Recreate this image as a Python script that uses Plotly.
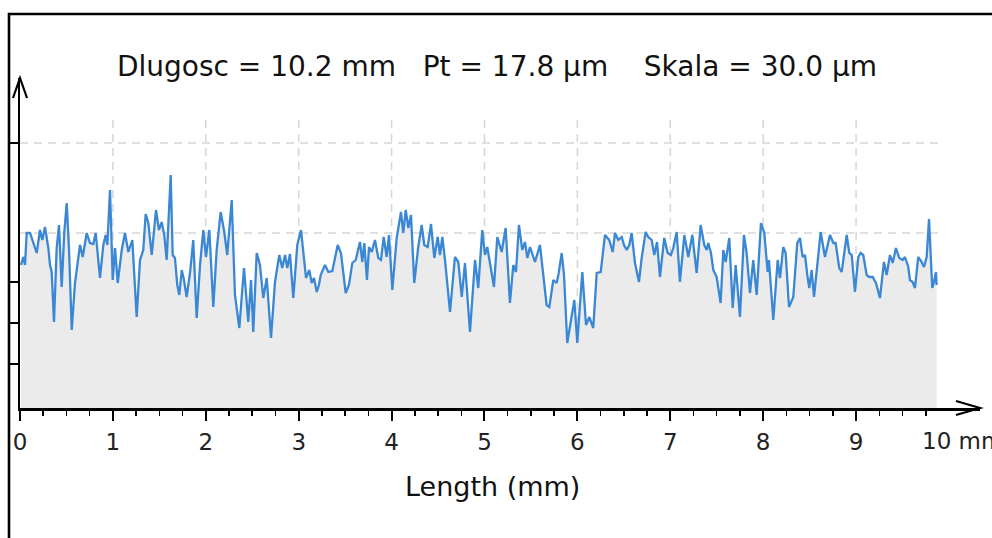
import plotly.graph_objects as go

# Profile data: position along the sample (mm) and profile height (µm)
x_mm = [
    0.011, 0.036, 0.054, 0.072, 0.108, 0.143, 0.180, 0.215, 0.240, 0.269,
    0.305, 0.323, 0.341, 0.366, 0.395, 0.420, 0.449, 0.477, 0.503, 0.527,
    0.557, 0.592, 0.646, 0.675, 0.718, 0.753, 0.789, 0.815, 0.861, 0.897,
    0.922, 0.940, 0.969, 0.998, 1.023, 1.052, 1.095, 1.130, 1.166, 1.209,
    1.256, 1.292, 1.327, 1.353, 1.381, 1.418, 1.464, 1.496, 1.525, 1.553,
    1.579, 1.622, 1.644, 1.668, 1.693, 1.715, 1.741, 1.765, 1.794, 1.830,
    1.865, 1.902, 1.938, 1.973, 2.002, 2.038, 2.081, 2.117, 2.160, 2.199,
    2.231, 2.279, 2.314, 2.361, 2.411, 2.457, 2.487, 2.511, 2.548, 2.583,
    2.619, 2.656, 2.702, 2.745, 2.791, 2.823, 2.853, 2.877, 2.906, 2.942,
    2.985, 3.025, 3.079, 3.114, 3.140, 3.165, 3.194, 3.218, 3.237, 3.283,
    3.319, 3.362, 3.420, 3.455, 3.506, 3.541, 3.577, 3.614, 3.660, 3.685,
    3.706, 3.735, 3.757, 3.786, 3.821, 3.857, 3.886, 3.915, 3.947, 3.972,
    4.008, 4.055, 4.101, 4.126, 4.152, 4.180, 4.209, 4.244, 4.287, 4.324,
    4.352, 4.389, 4.424, 4.460, 4.496, 4.521, 4.546, 4.575, 4.629, 4.682,
    4.718, 4.755, 4.790, 4.844, 4.898, 4.933, 4.976, 5.005, 5.030, 5.059,
    5.102, 5.138, 5.185, 5.228, 5.274, 5.310, 5.339, 5.371, 5.407, 5.436,
    5.461, 5.490, 5.544, 5.597, 5.669, 5.698, 5.741, 5.777, 5.799, 5.831,
    5.856, 5.891, 5.931, 5.967, 5.999, 6.053, 6.093, 6.128, 6.171, 6.208,
    6.251, 6.297, 6.343, 6.380, 6.405, 6.440, 6.477, 6.502, 6.531, 6.559,
    6.584, 6.620, 6.663, 6.692, 6.735, 6.763, 6.800, 6.828, 6.857, 6.889,
    6.935, 6.972, 7.007, 7.032, 7.069, 7.104, 7.151, 7.194, 7.237, 7.284,
    7.327, 7.366, 7.392, 7.409, 7.438, 7.463, 7.499, 7.542, 7.571, 7.596,
    7.635, 7.672, 7.704, 7.750, 7.793, 7.822, 7.858, 7.893, 7.930, 7.976,
    8.012, 8.048, 8.062, 8.109, 8.156, 8.181, 8.216, 8.242, 8.278, 8.324,
    8.367, 8.396, 8.425, 8.450, 8.475, 8.496, 8.522, 8.547, 8.619, 8.665,
    8.719, 8.755, 8.780, 8.819, 8.845, 8.880, 8.899, 8.927, 8.953, 8.988,
    9.024, 9.049, 9.077, 9.114, 9.142, 9.179, 9.214, 9.257, 9.300, 9.329,
    9.365, 9.394, 9.429, 9.465, 9.502, 9.526, 9.562, 9.580, 9.609, 9.634,
    9.669, 9.706, 9.731, 9.760, 9.785, 9.820, 9.839, 9.860, 9.867,
]

height_um = [
    14.3, 15.1, 14.3, 17.5, 17.5, 16.6, 15.5, 17.8, 16.8, 18.1,
    16.0, 14.3, 13.6, 8.6, 16.0, 18.3, 12.1, 17.6, 20.5, 16.0,
    7.8, 12.5, 16.3, 15.1, 17.5, 16.5, 16.4, 17.5, 13.0, 16.3,
    17.3, 16.3, 21.8, 12.8, 16.0, 12.5, 15.8, 17.5, 15.6, 16.8,
    9.1, 14.8, 15.8, 19.4, 18.5, 15.3, 19.8, 17.8, 18.6, 17.3,
    14.8, 23.3, 15.3, 15.0, 12.3, 11.3, 13.8, 12.8, 11.1, 13.5,
    16.8, 9.0, 14.3, 17.8, 15.1, 17.8, 10.1, 15.8, 19.6, 17.6,
    15.3, 20.8, 11.3, 8.0, 14.0, 8.6, 12.8, 7.6, 15.5, 14.3,
    11.0, 13.0, 7.0, 12.6, 15.3, 14.0, 15.3, 14.0, 15.4, 11.0,
    16.3, 17.8, 13.0, 13.8, 12.5, 13.0, 11.6, 12.3, 13.3, 14.3,
    13.6, 13.7, 16.3, 15.5, 11.5, 12.3, 14.5, 14.8, 16.6, 14.6,
    16.5, 12.8, 16.1, 15.6, 16.8, 15.0, 14.8, 17.1, 15.1, 17.3,
    11.8, 17.0, 19.6, 17.5, 19.8, 18.0, 19.3, 12.5, 16.1, 18.3,
    16.3, 16.1, 18.4, 15.0, 17.1, 15.3, 17.1, 14.8, 9.6, 15.1,
    14.6, 11.1, 14.5, 7.6, 14.8, 12.0, 17.8, 15.3, 16.1, 14.5,
    12.1, 17.1, 15.6, 18.0, 10.5, 14.3, 13.6, 18.3, 15.8, 16.6,
    15.0, 16.1, 14.6, 16.3, 10.3, 10.1, 12.8, 12.5, 13.5, 15.5,
    13.3, 6.5, 8.6, 10.8, 6.5, 13.6, 8.3, 9.1, 8.0, 13.5,
    13.6, 17.3, 16.8, 15.6, 17.5, 16.8, 17.1, 16.3, 15.8, 16.3,
    17.5, 14.5, 12.6, 15.0, 17.6, 17.1, 16.8, 15.3, 16.6, 13.1,
    17.0, 15.5, 15.3, 16.0, 17.6, 12.6, 17.3, 15.1, 17.3, 13.5,
    18.3, 16.3, 15.8, 16.5, 15.5, 13.8, 13.1, 10.5, 15.8, 14.6,
    17.0, 10.0, 14.3, 9.1, 17.3, 15.5, 11.5, 14.8, 11.3, 18.5,
    17.5, 13.6, 14.8, 8.8, 14.8, 13.0, 16.1, 15.5, 10.1, 11.1,
    16.5, 17.0, 15.1, 15.3, 13.3, 12.0, 13.8, 11.1, 17.6, 15.1,
    17.3, 16.5, 16.5, 14.0, 13.6, 16.1, 17.3, 15.5, 15.3, 11.6,
    15.1, 15.5, 15.3, 13.3, 13.1, 13.1, 12.5, 11.0, 14.6, 13.3,
    15.3, 14.5, 16.0, 15.0, 14.8, 15.1, 14.1, 12.8, 12.6, 12.0,
    15.1, 14.6, 14.1, 15.1, 18.9, 12.0, 12.6, 13.6, 12.3,
]

major_ticks = [0, 1, 2, 3, 4, 5, 6, 7, 8, 9]
major_labels = ["0", "1", "2", "3", "4", "5", "6", "7", "8", "9"]
minor_ticks = [m + q for m in range(10) for q in (0.25, 0.5, 0.75)]
y_ticks = [4.4, 8.5, 12.6, 26.5]
h_grid = [17.5, 26.5]
v_grid = [1, 2, 3, 4, 5, 6, 7, 8, 9]

title_text = "Dlugosc = 10.2 mm   Pt = 17.8 µm    Skala = 30.0 µm"
x_title = "Length (mm)"
end_label = "10 mm"

FONT = "DejaVu Sans, Liberation Sans, Arial, sans-serif"
GRID = "#d6d6d6"

fig = go.Figure()
fig.add_trace(go.Scatter(
    x=x_mm, y=height_um, mode="lines",
    line=dict(color="#3a87d5", width=2.3),
    fill="tozeroy", fillcolor="#ebebeb",
    hoverinfo="skip", showlegend=False,
))

shapes = []
# dashed grid (drawn under the filled profile)
for gx in v_grid:
    shapes.append(dict(type="line", xref="x", yref="y", x0=gx, x1=gx, y0=0, y1=29.3,
                       line=dict(color=GRID, width=1.5, dash="8px,6px"), layer="below"))
for gy in h_grid:
    shapes.append(dict(type="line", xref="x", yref="y", x0=0, x1=9.9, y0=gy, y1=gy,
                       line=dict(color=GRID, width=1.5, dash="8px,6px"), layer="below"))
# arrow heads on the axes
shapes.append(dict(type="path", xref="paper", yref="paper", xsizemode="pixel", ysizemode="pixel",
                   xanchor=0, yanchor=1, path="M -7,-20 L 0,0 L 7,-20",
                   line=dict(color="black", width=2.2)))
shapes.append(dict(type="path", xref="paper", yref="paper", xsizemode="pixel", ysizemode="pixel",
                   xanchor=1, yanchor=0, path="M -24,7 L 0,0 L -24,-7",
                   line=dict(color="black", width=2.2)))
# outer frame (left and top)
shapes.append(dict(type="path", xref="paper", yref="paper", xsizemode="pixel", ysizemode="pixel",
                   xanchor=0, yanchor=0, path="M -11,-140 L -11,394 L 990,394",
                   line=dict(color="black", width=2.6)))

annotations = [
    dict(text=title_text, xref="paper", yref="paper", x=0.497, y=1.036,
         xanchor="center", yanchor="middle", showarrow=False,
         font=dict(family=FONT, size=28, color="#111")),
    dict(text=x_title, xref="paper", yref="paper", x=0.492, y=-0.239,
         xanchor="center", yanchor="middle", showarrow=False,
         font=dict(family=FONT, size=27, color="#111")),
    dict(text=end_label, xref="paper", yref="paper", x=0.9375, y=-0.10,
         xanchor="left", yanchor="middle", showarrow=False,
         font=dict(family=FONT, size=23, color="#222")),
]

fig.update_layout(
    width=992, height=538,
    margin=dict(l=20, r=12, t=78, b=130),
    paper_bgcolor="white", plot_bgcolor="white",
    shapes=shapes, annotations=annotations,
    xaxis=dict(
        range=[0, 10.334], showgrid=False, zeroline=False,
        showline=True, linecolor="black", linewidth=2.5,
        tickmode="array", tickvals=major_ticks, ticktext=major_labels,
        ticks="outside", ticklen=10, tickwidth=2, tickcolor="black",
        ticklabelstandoff=2,
        tickfont=dict(family=FONT, size=23, color="#222"),
        minor=dict(tickmode="array", tickvals=minor_ticks, ticks="outside",
                   ticklen=5, tickwidth=1.5, tickcolor="black", showgrid=False),
    ),
    yaxis=dict(
        range=[0, 33], showgrid=False, zeroline=False,
        showline=True, linecolor="black", linewidth=2.5,
        tickmode="array", tickvals=y_ticks, showticklabels=False,
        ticks="outside", ticklen=9, tickwidth=2, tickcolor="black",
    ),
)

fig.write_html(
    "out.html",
    config={"displayModeBar": False, "staticPlot": True},
    post_script="document.body.style.margin='0';document.body.style.overflow='hidden';",
)
